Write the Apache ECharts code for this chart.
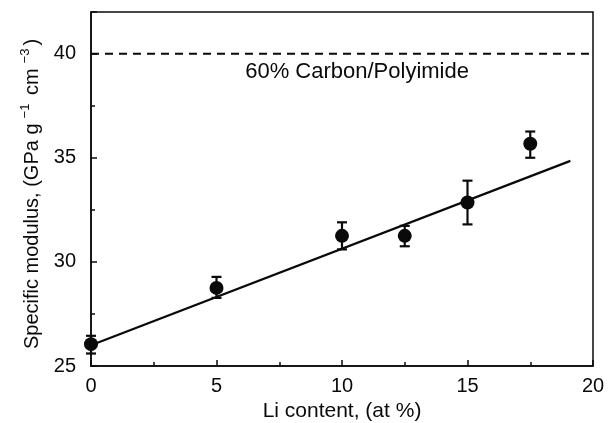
<!DOCTYPE html>
<html>
<head>
<meta charset="utf-8">
<style>
  html, body { margin: 0; padding: 0; background: #fff; }
  #chart { width: 608px; height: 423px; }
</style>
<script src="https://cdn.jsdelivr.net/npm/echarts@6/dist/echarts.min.js"></script>
</head>
<body>
<div id="chart"></div>
<script>
// Specific modulus of Al-Li alloys against Li content
const liContent = [0, 5, 10, 12.5, 15, 17.5];
const modulus   = [26.05, 28.75, 31.25, 31.25, 32.85, 35.67];
const errLow    = [25.6, 28.27, 30.6, 30.75, 31.8, 35.0];
const errHigh   = [26.45, 29.28, 31.9, 31.73, 33.9, 36.26];

// Linear fit through the measurements
const fitX = [0, 19.1];
const fitY = [26.0, 34.85];

// Carbon/polyimide composite reference level
const refLevel = 40;
const refLabel = '60% Carbon/Polyimide';
const refLabelPos = [10.6, 39.1];

const xTicks = [0, 5, 10, 15, 20];
const yTicks = [25, 30, 35, 40];

const FONT = 'Liberation Sans, Arial, Helvetica, sans-serif';
const INK = '#0a0a0a';

const chart = echarts.init(document.getElementById('chart'), null, { renderer: 'canvas' });

const points = liContent.map((x, i) => [x, modulus[i]]);
const bars = liContent.map((x, i) => [x, errLow[i], errHigh[i]]);
const fitLine = fitX.map((x, i) => [x, fitY[i]]);

const axisCommon = {
  axisLine: { show: true, lineStyle: { color: INK, width: 1.5 } },
  splitLine: { show: false },
  axisLabel: { color: INK, fontFamily: FONT, fontSize: 20 },
  nameTextStyle: { color: INK, fontFamily: FONT, fontSize: 21 }
};

chart.setOption({
  animation: false,
  backgroundColor: '#fff',
  grid: {
    left: 91, right: 15, top: 12, bottom: 57,
    outerBoundsMode: 'none',
    show: true, borderColor: INK, borderWidth: 1.5, backgroundColor: 'transparent'
  },
  xAxis: [{
    ...axisCommon,
    type: 'value', min: xTicks[0], max: xTicks[xTicks.length - 1], interval: 5,
    axisTick: { show: true, inside: true, length: 6, lineStyle: { color: INK, width: 1.5 } },
    minorTick: { show: true, splitNumber: 2, length: 4, lineStyle: { color: INK, width: 1.5 } },
    axisLabel: { ...axisCommon.axisLabel, margin: 10 },
    name: 'Li content, (at %)', nameLocation: 'middle', nameGap: 31
  }],
  yAxis: [{
    ...axisCommon,
    type: 'value', min: yTicks[0], max: 42, interval: 5,
    axisTick: { show: true, inside: true, length: 6, lineStyle: { color: INK, width: 1.5 } },
    axisLabel: {
      ...axisCommon.axisLabel, margin: 15,
      formatter: v => (yTicks.indexOf(v) >= 0 ? String(v) : '')
    },
    name: '{t|Specific modulus, (GPa g}{s|−1}{t| cm}{s|−3}{t|)}',
    nameLocation: 'middle', nameGap: 46, nameRotate: 90,
    nameTextStyle: {
      ...axisCommon.nameTextStyle,
      fontSize: 20,
      padding: [0, 10, 0, 0],
      rich: {
        t: { fontFamily: FONT, fontSize: 20, color: INK },
        s: { fontFamily: FONT, fontSize: 13, color: INK, padding: [0, 3, 13, 5] }
      }
    }
  }, {
    // minor ticks every 2.5
    type: 'value', min: yTicks[0], max: 42, interval: 2.5, position: 'left',
    axisLine: { show: false }, splitLine: { show: false },
    axisLabel: { show: false },
    axisTick: { show: true, inside: true, length: 4, lineStyle: { color: INK, width: 1.5 } }
  }],
  series: [
    {
      type: 'line',
      data: [[xTicks[0], refLevel], [xTicks[xTicks.length - 1], refLevel]],
      symbol: 'none',
      lineStyle: { color: INK, width: 2, type: [8, 6] },
      z: 2
    },
    {
      type: 'scatter',
      data: [refLabelPos],
      symbolSize: 0,
      itemStyle: { opacity: 1 },
      label: {
        show: true, position: 'inside',
        formatter: refLabel,
        color: INK, fontFamily: FONT, fontSize: 22
      },
      z: 2
    },
    {
      type: 'line',
      data: fitLine,
      symbol: 'none',
      lineStyle: { color: INK, width: 2.2 },
      z: 3
    },
    {
      type: 'custom',
      data: bars,
      renderItem: (params, api) => {
        const x = api.value(0);
        const lo = api.coord([x, api.value(1)]);
        const hi = api.coord([x, api.value(2)]);
        const cap = 5;
        const style = { stroke: INK, lineWidth: 2.2 };
        return {
          type: 'group',
          children: [
            { type: 'line', shape: { x1: lo[0], y1: lo[1], x2: hi[0], y2: hi[1] }, style },
            { type: 'line', shape: { x1: lo[0] - cap, y1: lo[1], x2: lo[0] + cap, y2: lo[1] }, style },
            { type: 'line', shape: { x1: hi[0] - cap, y1: hi[1], x2: hi[0] + cap, y2: hi[1] }, style }
          ]
        };
      },
      z: 4
    },
    {
      type: 'scatter',
      data: points,
      symbol: 'circle',
      symbolSize: 14,
      itemStyle: { color: INK, opacity: 1 },
      z: 5
    }
  ]
});
</script>
</body>
</html>
